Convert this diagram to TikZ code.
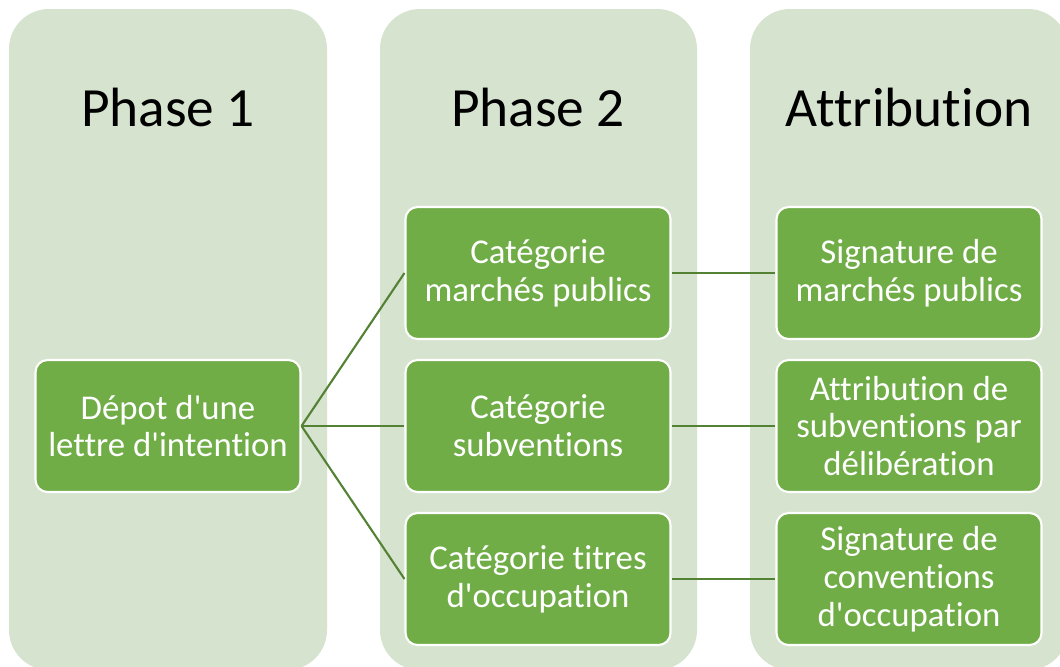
\documentclass[tikz,border=0pt]{standalone}
\usepackage{fontspec}
\newfontfamily\carlito{Carlito}[Ligatures=NoCommon]
\usetikzlibrary{positioning}
\definecolor{fondvert}{HTML}{D6E3CF}
\definecolor{boitevert}{HTML}{70AD47}
\definecolor{traitvert}{HTML}{548235}
\tikzset{
  colonne/.style={fill=fondvert, rounded corners=0.8cm},
  titre/.style={font=\carlito\fontsize{31.5}{38}\selectfont, text=black},
  etape/.style={draw=white, line width=1.2pt, fill=boitevert, rounded corners=0.24cm,
    minimum width=5.3cm, minimum height=2.64cm, text=white, align=center,
    font=\carlito\fontsize{19.8}{21.5}\selectfont},
  lien/.style={draw=traitvert, line width=1.2pt}
}
\begin{document}
\begin{tikzpicture}[x=0.02cm,y=-0.02cm]
	\clip (0,0) rectangle (1060,666);
	\useasboundingbox (0,0) rectangle (1060,666);
	% colonnes
	\fill[colonne] (9,9) rectangle (327,670);
	\fill[colonne] (380,9) rectangle (697,670);
	\fill[colonne] (750,9) rectangle (1068,670);
	\node[titre] (phase1) at (168,107){Phase 1};
	\node[titre] (phase2) at (538,107){Phase 2};
	\node[titre] (attrib) at (909,107){Attribution};
	% etapes
	\node[etape] (depot) at (168,426){Dépot d'une\\lettre d'intention};
	\node[etape] (marches) at (538,273){Catégorie\\marchés publics};
	\node[etape] (subv) at (538,426){Catégorie\\subventions};
	\node[etape] (titres) at (538,579){Catégorie titres\\d'occupation};
	\node[etape] (sigmarches) at (909,273){Signature de\\marchés publics};
	\node[etape] (attsubv) at (909,426){Attribution de\\subventions par\\délibération};
	\node[etape] (sigconv) at (909,579){Signature de\\conventions\\d'occupation};
	% liens
	\draw[lien] (depot.east) -- (marches.west);
	\draw[lien] (depot.east) -- (subv.west);
	\draw[lien] (depot.east) -- (titres.west);
	\draw[lien] (marches.east) -- (sigmarches.west);
	\draw[lien] (subv.east) -- (attsubv.west);
	\draw[lien] (titres.east) -- (sigconv.west);
\end{tikzpicture}
\end{document}
